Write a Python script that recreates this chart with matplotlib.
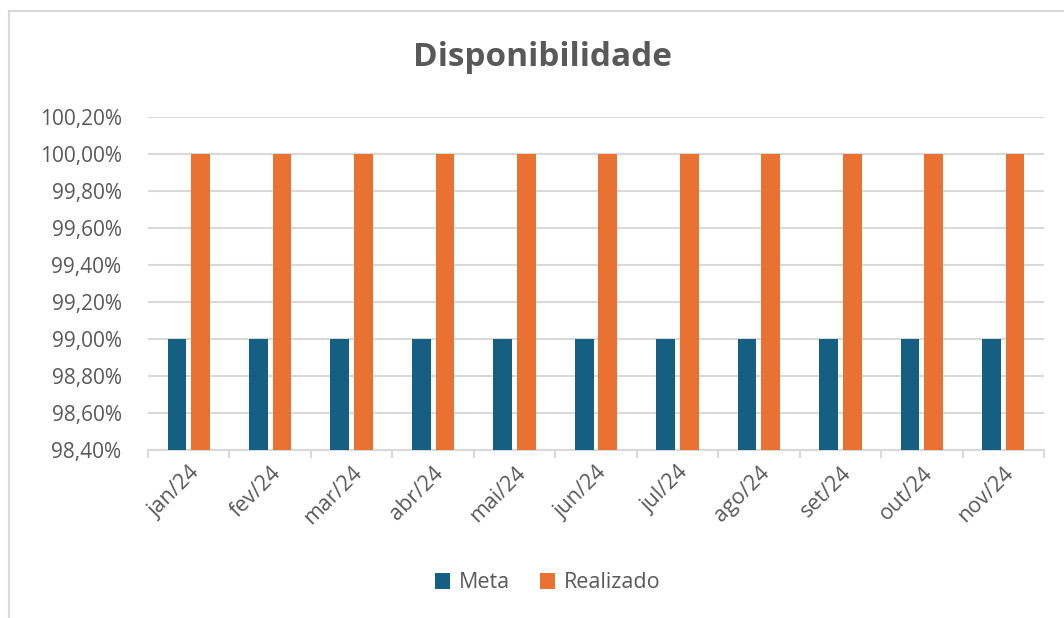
import numpy as np
import matplotlib.pyplot as plt
from matplotlib.patches import Rectangle
from matplotlib.ticker import FixedLocator

plt.rcParams['font.family'] = ['Open Sans', 'DejaVu Sans']

# Data
months = ['jan/24', 'fev/24', 'mar/24', 'abr/24', 'mai/24', 'jun/24',
          'jul/24', 'ago/24', 'set/24', 'out/24', 'nov/24']
meta = [99.0] * 11
realizado = [100.0] * 11
yticks = [98.4, 98.6, 98.8, 99.0, 99.2, 99.4, 99.6, 99.8, 100.0, 100.2]

c_meta = '#156082'
c_real = '#E97132'
grey = '#595959'
line_grey = '#D9D9D9'

fig = plt.figure(figsize=(10.64, 6.18), dpi=100)
ax = fig.add_axes([148 / 1064, 1 - 450 / 618, (1044 - 148) / 1064, (450 - 117) / 618])

# Outer chart border
fig.patches.append(Rectangle((9 / 1064, -0.5), 2, 1 - 11 / 618 + 0.5,
                             transform=fig.transFigure, fill=False,
                             edgecolor=line_grey, linewidth=1.5))

x = np.arange(len(months))
w = 0.23
off = 0.145
ax.bar(x - off, meta, w, color=c_meta, label='Meta', zorder=3)
ax.bar(x + off, realizado, w, color=c_real, label='Realizado', zorder=3)

ax.set_ylim(98.4, 100.2)
ax.set_xlim(-0.5, len(months) - 0.5)
ax.set_yticks(yticks)
ax.set_yticklabels([f'{v:.2f}%'.replace('.', ',') for v in yticks])
ax.yaxis.grid(True, color=line_grey, linewidth=1.5, zorder=0)
ax.tick_params(axis='y', length=0, labelsize=15, labelcolor=grey, pad=19)

ax.set_xticks(x)
ax.set_xticklabels(months, rotation=45, ha='right', rotation_mode='anchor')
ax.tick_params(axis='x', which='major', length=0, labelsize=15.5, labelcolor=grey, pad=9)
ax.xaxis.set_minor_locator(FixedLocator(np.arange(-0.5, len(months), 1.0)))
ax.tick_params(axis='x', which='minor', length=6, width=1.5, color=line_grey)

for s in ['top', 'right', 'left']:
    ax.spines[s].set_visible(False)
ax.spines['bottom'].set_color(line_grey)
ax.spines['bottom'].set_linewidth(1.5)

fig.text(542 / 1064, 1 - 58 / 618, 'Disponibilidade', ha='center', va='center',
         fontsize=24, fontweight='bold', color=grey)

fig.legend(loc='center', bbox_to_anchor=(548 / 1064, 1 - 583 / 618), ncol=2,
           frameon=False, fontsize=15.5, labelcolor=grey, handlelength=0.7,
           handleheight=0.7, handletextpad=0.4, columnspacing=1.4)

fig.savefig('out.png', dpi=100)
